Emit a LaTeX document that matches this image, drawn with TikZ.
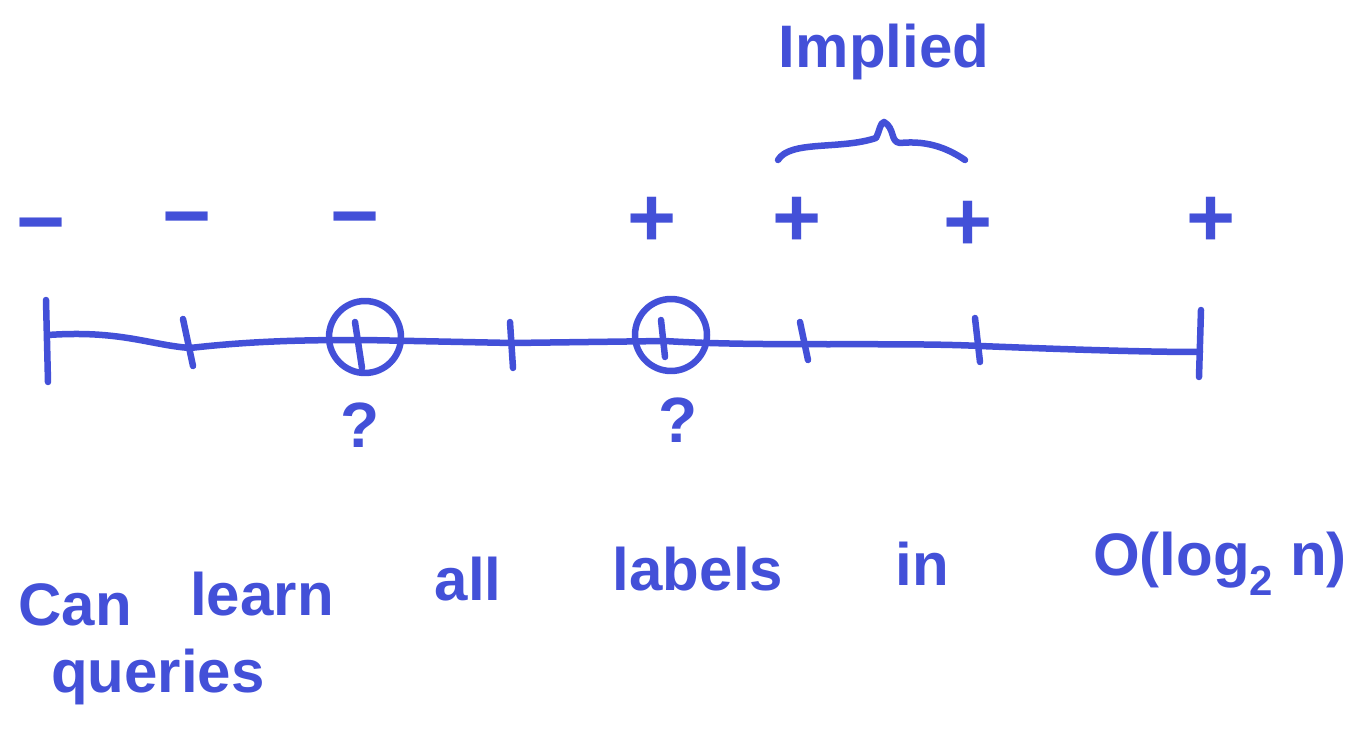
\documentclass[tikz,border=0pt]{standalone}
\usepackage{fontspec}
\setmainfont{Liberation Sans}
\definecolor{ink}{HTML}{4350D8}
\begin{document}
\begin{tikzpicture}[x=1pt,y=-1pt,
  pen/.style={draw=ink,line width=6.5pt,line cap=round,line join=round},
  sign/.style={text=ink,font=\bfseries\fontsize{84}{84}\selectfont,inner sep=0pt,anchor=center},
  query/.style={text=ink,font=\bfseries\fontsize{64}{64}\selectfont,inner sep=0pt,anchor=center},
  word/.style={text=ink,font=\bfseries\fontsize{60}{60}\selectfont,inner sep=0pt,anchor=base}]
\useasboundingbox (0,0) rectangle (1361,754);
% axis line
\coordinate (L) at (48,335);
\coordinate (R) at (1200,352);
\draw[pen] (L) .. controls (120,330) and (150,345) .. (190,348)
  .. controls (260,340) and (320,340) .. (365,340)
  -- (512,343) -- (665,341) .. controls (760,347) and (900,342) .. (980,346)
  .. controls (1080,350) and (1150,352) .. (R);
% end ticks
\draw[pen] (46,300) -- (48,382);
\draw[pen] (1201,310) -- (1199,377);
% inner ticks
\draw[pen] (183,319) -- (193,366);
\draw[pen] (355,322) -- (362,368);
\draw[pen] (510,322) -- (513,368);
\draw[pen] (661,320) -- (665,357);
\draw[pen] (800,322) -- (808,360);
\draw[pen] (975,318) -- (980,362);
% circles
\node[pen,circle,minimum size=72pt,inner sep=0pt] (c1) at (365,337) {};
\node[pen,circle,minimum size=72pt,inner sep=0pt] (c2) at (671,335) {};
% signs
\node[sign] (m1) at (41,234) {−};
\node[sign] (m2) at (187,228) {−};
\node[sign] (m3) at (355,228) {−};
\node[sign] (p1) at (652,222) {+};
\node[sign] (p2) at (797,222) {+};
\node[sign] (p3) at (968,226) {+};
\node[sign] (p4) at (1211,222) {+};
% question marks
\node[query] (q1) at (360,425) {?};
\node[query] (q2) at (678,420) {?};
% brace
\draw[pen] (778,160) .. controls (790,140) and (840,150) .. (876,138)
  .. controls (880,130) and (880,123) .. (884,122)
  .. controls (895,128) and (890,142) .. (900,143)
  .. controls (930,140) and (950,150) .. (965,160);
\node[word] (impl) at (884,68) {Implied};
% bottom text
\node[word] (w1) at (75,625) {Can};
\node[word] (w2) at (262,615) {learn};
\node[word] (w3) at (468,600) {all};
\node[word] (w4) at (698,590) {labels};
\node[word] (w5) at (922,585) {in};
\node[word] (w6) at (1220,575) {O(log\textsubscript{2} n)};
\node[word] (w7) at (158,692) {queries};
\end{tikzpicture}
\end{document}
